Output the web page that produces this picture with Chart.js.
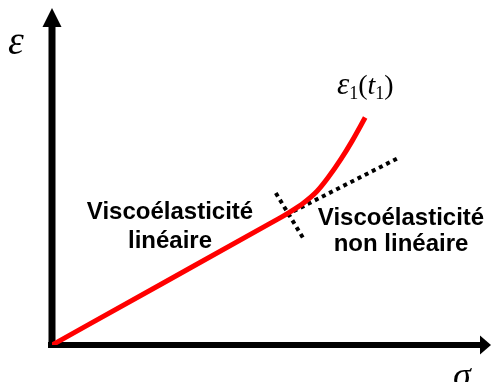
<!DOCTYPE html>
<html>
<head>
<meta charset="utf-8">
<script src="https://cdn.jsdelivr.net/npm/chart.js@4/dist/chart.umd.min.js"></script>
<style>
  html, body { margin: 0; padding: 0; background: #fff; }
  #wrap { width: 492px; height: 382px; }
</style>
</head>
<body>
<div id="wrap"><canvas id="chart" width="492" height="382"></canvas></div>
<script>
// courbe epsilon(sigma), unites arbitraires 0..100
const sigmaVals = [0, 25, 49.8, 54, 57.5, 60.5, 63, 66, 68.5, 71.5];
const epsVals = [0, 18.1, 36.1, 39.2, 42.2, 45.6, 49.6, 55.2, 60.5, 67.5];

// prolongement lineaire (pointille)
const tangentSigma = [53.5, 79.5];
const tangentEps = [38.6, 55.8];

// trait de separation (pointille)
const limitSigma = [51.1, 57.3];
const limitEps = [45.1, 31.8];

const toPoints = (xs, ys) => xs.map((x, i) => ({ x: x, y: ys[i] }));

const SANS = '"Liberation Sans", Arial, sans-serif';
const SERIF = '"Liberation Serif", "Times New Roman", serif';

// axes en fleches + textes
const decor = {
  id: 'decor',
  beforeDatasetsDraw(chart) {
    const { ctx, chartArea, scales } = chart;
    const x0 = scales.x.getPixelForValue(0);
    const y0 = scales.y.getPixelForValue(0);
    ctx.save();
    ctx.fillStyle = '#000';
    // axe vertical
    ctx.fillRect(x0 - 3.5, chartArea.top + 18, 7, y0 - chartArea.top - 16);
    ctx.beginPath();
    ctx.moveTo(x0 - 9.5, chartArea.top + 19);
    ctx.lineTo(x0 + 9.5, chartArea.top + 19);
    ctx.lineTo(x0, chartArea.top);
    ctx.closePath();
    ctx.fill();
    // axe horizontal
    ctx.fillRect(x0 - 4, y0 - 3, chartArea.right - x0 - 6, 6);
    ctx.beginPath();
    ctx.moveTo(chartArea.right - 10, y0 - 9.5);
    ctx.lineTo(chartArea.right - 10, y0 + 9.5);
    ctx.lineTo(chartArea.right + 1, y0);
    ctx.closePath();
    ctx.fill();
    ctx.restore();
  },
  afterDatasetsDraw(chart) {
    const { ctx } = chart;
    ctx.save();
    ctx.fillStyle = '#000';
    ctx.textBaseline = 'alphabetic';

    // labels des axes
    ctx.textAlign = 'left';
    ctx.font = 'italic 40px ' + SERIF;
    ctx.fillText('\u03b5', 8, 54);
    ctx.font = 'italic 36px ' + SERIF;
    ctx.fillText('\u03c3', 453, 387);

    // epsilon_1(t_1)
    let x = 337;
    const base = 94;
    const parts = [
      ['\u03b5', 'italic 31px ', 0],
      ['1', '18px ', 5],
      ['(', '28px ', 0],
      ['t', 'italic 28px ', 0],
      ['1', '18px ', 5],
      [')', '28px ', 0]
    ];
    parts.forEach(p => {
      ctx.font = p[1] + SERIF;
      ctx.fillText(p[0], x, base + p[2]);
      x += ctx.measureText(p[0]).width;
    });

    // zones
    ctx.textAlign = 'center';
    ctx.font = 'bold 24px ' + SANS;
    ctx.fillText('Viscoélasticité', 170, 219);
    ctx.fillText('linéaire', 170, 248);
    ctx.fillText('Viscoélasticité', 401, 225);
    ctx.fillText('non linéaire', 401, 251);
    ctx.restore();
  }
};

new Chart(document.getElementById('chart'), {
  type: 'scatter',
  data: {
    datasets: [
      {
        data: toPoints(sigmaVals, epsVals),
        showLine: true,
        borderColor: '#ff0000',
        borderWidth: 5,
        pointRadius: 0,
        cubicInterpolationMode: 'monotone'
      },
      {
        data: toPoints(tangentSigma, tangentEps),
        showLine: true,
        borderColor: '#000',
        borderWidth: 4,
        borderDash: [4, 4],
        pointRadius: 0
      },
      {
        data: toPoints(limitSigma, limitEps),
        showLine: true,
        borderColor: '#000',
        borderWidth: 4,
        borderDash: [4, 4],
        pointRadius: 0
      }
    ]
  },
  options: {
    responsive: false,
    animation: false,
    layout: { padding: { left: 52, right: 2, top: 8, bottom: 37 } },
    plugins: { legend: { display: false }, tooltip: { enabled: false } },
    scales: {
      x: { type: 'linear', min: 0, max: 100, display: false },
      y: { type: 'linear', min: 0, max: 100, display: false }
    }
  },
  plugins: [decor]
});
</script>
</body>
</html>
